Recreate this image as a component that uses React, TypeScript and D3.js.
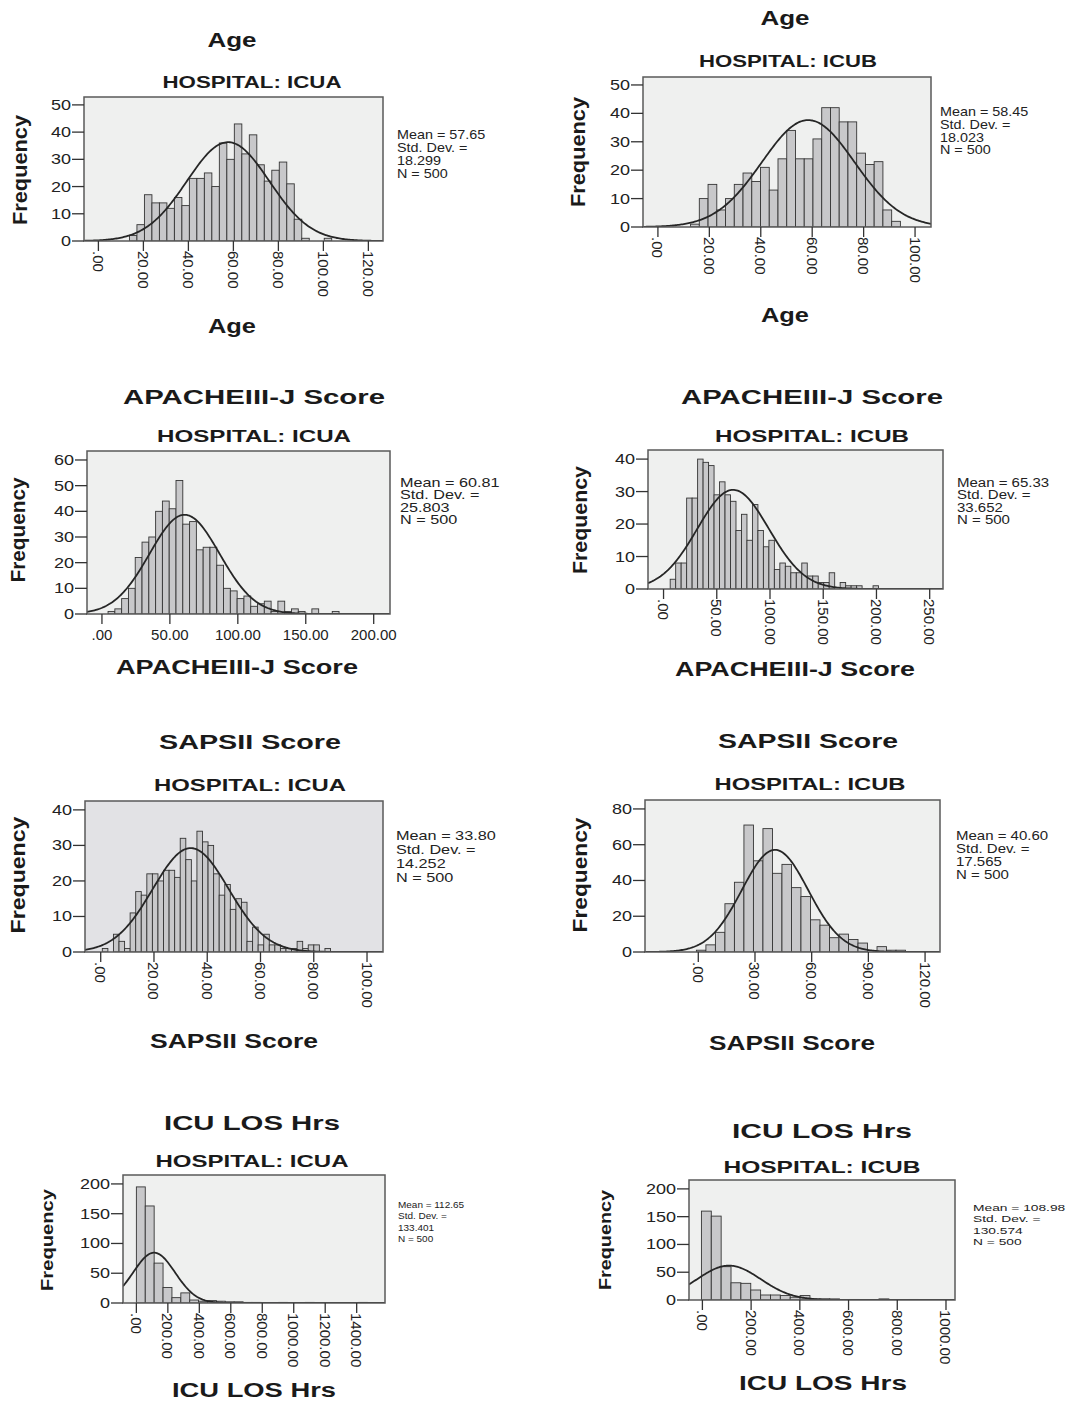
import React from 'react';
import * as d3 from 'd3';

// bin counts (left = ICUA, right = ICUB)
const ageICUA = [2, 6, 17, 14, 14, 12, 16, 13, 23, 23, 25, 20, 36, 30, 43, 32, 39, 28, 22, 26, 29, 21, 8, 1, 0, 0, 1];
const ageICUB = [1, 10, 15, 6, 10, 15, 19, 16, 21, 13, 24, 34, 24, 24, 31, 42, 42, 37, 37, 26, 22, 23, 6, 2];
const apacheICUA = [1, 2, 6, 10, 22, 28, 30, 40, 44, 41, 52, 35, 36, 25, 26, 26, 19, 10, 9, 6, 7, 3, 4, 5, 1, 5, 1, 2, 1, 0, 2, 0, 0, 1];
const apacheICUB = [3, 8, 8, 28, 28, 40, 39, 38, 29, 33, 29, 27, 18, 23, 15, 26, 18, 13, 15, 6, 8, 7, 5, 5, 8, 4, 4, 2, 2, 5, 0, 2, 1, 1, 1, 0, 0, 1];
const sapsICUA = [1, 0, 5, 3, 1, 11, 17, 16, 22, 22, 20, 23, 23, 21, 32, 26, 20, 34, 31, 30, 22, 16, 19, 12, 15, 14, 3, 7, 2, 5, 2, 2, 1, 1, 1, 3, 1, 2, 2, 0, 1];
const sapsICUB = [1, 4, 11, 27, 39, 71, 51, 69, 44, 49, 36, 31, 18, 15, 8, 10, 7, 5, 0, 3, 1, 1];
const losICUA = [195, 163, 67, 26, 9, 17, 5, 3, 4, 3, 2, 2, 1, 1, 0, 0, 1, 0, 0, 1, 0, 0, 0, 0, 0, 1];
const losICUB = [160, 151, 60, 31, 30, 18, 9, 9, 8, 5, 8, 2, 2, 2, 0, 1, 0, 0, 2, 0, 0, 1];

const counts = [ageICUA, ageICUB, apacheICUA, apacheICUB, sapsICUA, sapsICUB, losICUA, losICUB];
const binStart = [13.8, 12.7, 4.5, 6.25, 0.6, -1, 0, -4];
const binWidth = [3.33, 3.4, 5, 5.15, 2.09, 5.03, 56.5, 40.5];

const variables = ['Age', 'Age', 'APACHEIII-J Score', 'APACHEIII-J Score', 'SAPSII Score', 'SAPSII Score', 'ICU LOS Hrs', 'ICU LOS Hrs'];
const hospitals = ['ICUA', 'ICUB', 'ICUA', 'ICUB', 'ICUA', 'ICUB', 'ICUA', 'ICUB'];
const means = [57.65, 58.45, 60.81, 65.33, 33.8, 40.6, 112.65, 108.98];
const sds = [18.299, 18.023, 25.803, 33.652, 14.252, 17.565, 133.401, 130.574];
const ns = [500, 500, 500, 500, 500, 500, 500, 500];

const xTicks = [
  [0, 20, 40, 60, 80, 100, 120],
  [0, 20, 40, 60, 80, 100],
  [0, 50, 100, 150, 200],
  [0, 50, 100, 150, 200, 250],
  [0, 20, 40, 60, 80, 100],
  [0, 30, 60, 90, 120],
  [0, 200, 400, 600, 800, 1000, 1200, 1400],
  [0, 200, 400, 600, 800, 1000],
];
const yTicks = [
  [0, 10, 20, 30, 40, 50],
  [0, 10, 20, 30, 40, 50],
  [0, 10, 20, 30, 40, 50, 60],
  [0, 10, 20, 30, 40],
  [0, 10, 20, 30, 40],
  [0, 20, 40, 60, 80],
  [0, 50, 100, 150, 200],
  [0, 50, 100, 150, 200],
];

// layout: frame [x,y,w,h], text anchors [cx/x, baseline, width]; stats [x, baseline, pitch, size, scaleX]
const layout = [
  { frame: [84, 97, 299, 144], xDom: [-6.4, 126.5], yMax: 52.9, bg: '#eff0ef', rot: true,
    title: [232, 47, 49], sub: [252, 88, 179], freq: [27, 170, 110, 20], xlab: [232, 333, 48],
    stats: [397, 139, 13, 12.5, 1.15] },
  { frame: [643, 77, 288, 150], xDom: [-5.8, 106.2], yMax: 52.8, bg: '#eff0ef', rot: true,
    title: [785, 25, 49], sub: [788, 67, 178], freq: [585, 152, 110, 20], xlab: [785, 322, 48],
    stats: [940, 116, 12.8, 12.5, 1.15] },
  { frame: [87, 451, 303, 163], xDom: [-11, 212], yMax: 63.5, bg: '#eff0ef', rot: false,
    title: [254, 404, 262], sub: [254, 442, 194], freq: [25, 530, 105, 20], xlab: [237, 674, 242],
    stats: [400, 487, 12.5, 12, 1.35] },
  { frame: [648, 450, 295, 139], xDom: [-14.6, 262.5], yMax: 42.8, bg: '#eff0ef', rot: true,
    title: [812, 404, 262], sub: [812, 442, 194], freq: [587, 520, 108, 20], xlab: [795, 676, 240],
    stats: [957, 487, 12.5, 12, 1.25] },
  { frame: [85, 801, 298, 151], xDom: [-5.9, 106], yMax: 42.5, bg: '#e2e2e5', rot: true,
    title: [250, 749, 182], sub: [250, 791, 192], freq: [25, 875, 117, 20], xlab: [234, 1048, 168],
    stats: [396, 840, 14, 12.5, 1.3] },
  { frame: [645, 800, 295, 152], xDom: [-28.2, 127.9], yMax: 85, bg: '#eff0ef', rot: true,
    title: [808, 748, 180], sub: [810, 790, 191], freq: [587, 875, 115, 20], xlab: [792, 1050, 166],
    stats: [956, 840, 13, 12.5, 1.2] },
  { frame: [123, 1175, 262, 128], xDom: [-85, 1580], yMax: 215, bg: '#eff0ef', rot: true,
    title: [252, 1130, 176], sub: [252, 1167, 193], freq: [53, 1240, 102, 17], xlab: [254, 1397, 164],
    stats: [398, 1208, 11.3, 9.5, 1.05] },
  { frame: [689, 1180, 266, 120], xDom: [-55, 1037], yMax: 216, bg: '#eff0ef', rot: true,
    title: [822, 1138, 180], sub: [822, 1173, 197], freq: [611, 1240, 100, 17], xlab: [823, 1390, 168],
    stats: [973, 1211, 11.3, 9.5, 1.45] },
];

const FONT = '"Liberation Sans", Arial, sans-serif';
const fmtTick = (d: number) => (d === 0 ? '.00' : d.toFixed(2));

function Bold({ cx, y, w, size, text }: { cx: number; y: number; w: number; size: number; text: string }) {
  return (
    <text x={cx - w / 2} y={y} fontSize={size} fontWeight="bold" textLength={w}
      lengthAdjust="spacingAndGlyphs" fill="#1a1a1a">{text}</text>
  );
}

function Panel({ i }: { i: number }) {
  const L = layout[i];
  const [fx, fy, fw, fh] = L.frame;
  const x = d3.scaleLinear().domain(L.xDom).range([fx, fx + fw]);
  const y = d3.scaleLinear().domain([0, L.yMax]).range([fy + fh, fy]);
  const w = binWidth[i];
  const bars = counts[i].map((c, k) => ({ x0: binStart[i] + k * w, x1: binStart[i] + (k + 1) * w, c }));

  // fitted normal curve, scaled to counts per bin
  const density = (v: number) =>
    (ns[i] * w * Math.exp(-0.5 * ((v - means[i]) / sds[i]) ** 2)) / (sds[i] * Math.sqrt(2 * Math.PI));
  const samples = d3.range(241).map((k) => L.xDom[0] + ((L.xDom[1] - L.xDom[0]) * k) / 240);
  const curve = d3.line<number>().x((v) => x(v)).y((v) => y(density(v)))(samples) || '';

  const [sx, sy, sp, ss, sk] = L.stats;
  const statLines = [`Mean = ${means[i].toFixed(2)}`, 'Std. Dev. =', sds[i].toFixed(3), `N = ${ns[i]}`];
  const [qx, qy, ql, qs] = L.freq;
  const bottom = fy + fh;
  const clipId = `clip${i}`;

  return (
    <g fontFamily={FONT}>
      <Bold cx={L.title[0]} y={L.title[1]} w={L.title[2]} size={20} text={variables[i]} />
      <Bold cx={L.sub[0]} y={L.sub[1]} w={L.sub[2]} size={17} text={`HOSPITAL: ${hospitals[i]}`} />
      <Bold cx={L.xlab[0]} y={L.xlab[1]} w={L.xlab[2]} size={20} text={variables[i]} />
      <g transform={`translate(${qx},${qy}) rotate(-90)`}>
        <Bold cx={0} y={0} w={ql} size={qs} text="Frequency" />
      </g>

      <clipPath id={clipId}><rect x={fx} y={fy} width={fw} height={fh} /></clipPath>
      <rect x={fx} y={fy} width={fw} height={fh} fill={L.bg} />
      <g clipPath={`url(#${clipId})`}>
        {bars.filter((b) => b.c > 0).map((b, k) => (
          <rect key={k} x={x(b.x0)} y={y(b.c)} width={x(b.x1) - x(b.x0)} height={bottom - y(b.c)}
            fill="#c8c8ca" stroke="#353535" strokeWidth={0.9} />
        ))}
        <path d={curve} fill="none" stroke="#262626" strokeWidth={1.8} />
      </g>
      <rect x={fx} y={fy} width={fw} height={fh} fill="none" stroke="#5a5a5a" strokeWidth={1.5} />

      {yTicks[i].map((t) => (
        <g key={`y${t}`}>
          <line x1={fx - 12} x2={fx} y1={y(t)} y2={y(t)} stroke="#333" strokeWidth={1.3} />
          <text transform={`translate(${fx - 13},${y(t)}) scale(1.2,1)`} textAnchor="end"
            dominantBaseline="central" fontSize={15} fill="#222">{t}</text>
        </g>
      ))}

      {xTicks[i].map((t) => (
        <g key={`x${t}`}>
          <line x1={x(t)} x2={x(t)} y1={bottom} y2={bottom + 10} stroke="#333" strokeWidth={1.3} />
          {L.rot ? (
            <text transform={`translate(${x(t)},${bottom + 10}) rotate(90)`} dominantBaseline="central"
              fontSize={15} fill="#222">{fmtTick(t)}</text>
          ) : (
            <text x={x(t)} y={bottom + 26} textAnchor="middle" fontSize={15} fill="#222">{fmtTick(t)}</text>
          )}
        </g>
      ))}

      <g transform={`translate(${sx},${sy}) scale(${sk},1)`}>
        {statLines.map((s, k) => (
          <text key={k} x={0} y={k * sp} fontSize={ss} fill="#222">{s}</text>
        ))}
      </g>
    </g>
  );
}

export default function App() {
  return (
    <svg width={1077} height={1402} style={{ position: 'absolute', left: 0, top: 0, background: '#fff' }}>
      <rect width={1077} height={1402} fill="#fff" />
      {layout.map((_, i) => <Panel key={i} i={i} />)}
    </svg>
  );
}
